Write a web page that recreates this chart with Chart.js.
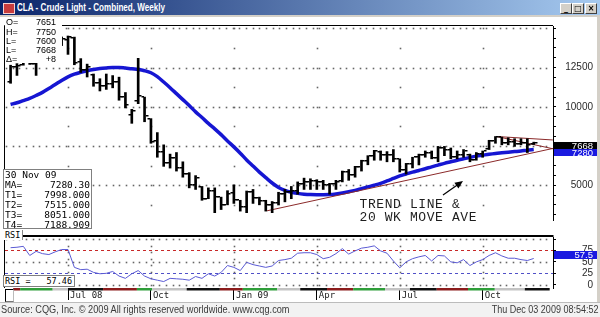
<!DOCTYPE html>
<html><head><meta charset="utf-8">
<script src="https://cdn.jsdelivr.net/npm/chart.js@4.4.1/dist/chart.umd.min.js"></script>
<style>
html,body{margin:0;padding:0;}
body{width:600px;height:317px;position:relative;overflow:hidden;background:#fff;font-family:'Liberation Sans',Arial,sans-serif;}
.abs{position:absolute;z-index:3;}
canvas{position:absolute;left:0;z-index:1;}
#title{left:0;top:0;width:600px;height:15px;background:linear-gradient(to right,#0a246a,#a6caf0);z-index:2;}
#band{left:0;top:15px;width:600px;height:2px;background:#d4d0c8;z-index:2;}
#ticon{left:3px;top:3px;width:10px;height:9px;background:#c83c3c;border:1px solid #f4d0d0;}
#ttext{left:17px;top:1px;color:#fff;font:bold 10px 'Liberation Sans';line-height:13px;white-space:nowrap;transform:scaleX(0.81);transform-origin:0 0;}
.btn{top:3px;width:10px;height:9px;background:#d4d0c8;border:1px solid;border-color:#fff #404040 #404040 #fff;font:bold 8px 'DejaVu Sans';line-height:9px;text-align:center;color:#000;}
#ohlc{left:5px;top:18px;width:57px;height:45px;background:#fff;font:9px 'Liberation Sans';line-height:9.2px;color:#000;padding-top:0.4px;box-sizing:border-box;}
.r{display:flex;justify-content:space-between;padding:0 6px 0 1px;}
#mabox{left:3px;top:169px;width:89px;height:60px;background:#fff;border:1px solid #808080;box-sizing:border-box;font:9.5px 'DejaVu Sans Mono';line-height:10px;color:#000;}
.r2{display:flex;justify-content:space-between;padding:0 1px 0 1px;white-space:pre;}
#rsilab{left:3px;top:230px;height:10px;padding:0 2px;background:#fff;border-right:1px solid #888;font:8.5px 'DejaVu Sans Mono';line-height:10px;color:#000;}
#rsibox{left:3px;top:275px;width:72px;height:12px;background:#fff;border:1px solid #808080;box-sizing:border-box;font:8.5px 'DejaVu Sans Mono';line-height:10px;color:#000;display:flex;justify-content:space-between;padding:0 2px 0 1px;white-space:pre;}
.pbox{left:554px;width:43px;height:7px;overflow:hidden;color:#fff;font:9.5px 'Liberation Sans';line-height:7.5px;text-align:right;box-sizing:border-box;padding-right:4px;}
#ann{left:359.5px;top:199.2px;font:13px 'Liberation Mono';letter-spacing:0.6px;line-height:12.5px;color:#1e1e1e;white-space:pre;}
#brk{left:5px;top:289px;width:7px;height:11px;border-left:1px solid #000;border-top:1px solid #000;border-bottom:1px solid #777;border-right:1px solid #bbb;background:#fff;}
#foot{left:0;top:302px;width:600px;height:15px;background:#f2f2f2;border-top:1px solid #bcbcbc;box-sizing:border-box;z-index:2;}
#src{left:1px;top:303px;font:10px 'Liberation Sans';line-height:14px;color:#3a3a3a;white-space:nowrap;transform:scaleX(0.92);transform-origin:0 0;}
#dt{right:2px;top:303px;font:10px 'Liberation Sans';line-height:14px;color:#3a3a3a;white-space:nowrap;transform:scaleX(0.9);transform-origin:100% 0;}
#rframe{left:597px;top:17px;width:3px;height:285px;background:#d4d0c8;z-index:2;}
</style></head>
<body>
<div id="title" class="abs"></div>
<div id="band" class="abs"></div>
<div id="ticon" class="abs"></div>
<div id="ttext" class="abs">CLA - Crude Light - Combined, Weekly</div>
<div class="abs btn" style="left:560px">_</div>
<div class="abs btn" style="left:572px">□</div>
<div class="abs btn" style="left:585px">×</div>

<canvas id="cA" width="600" height="212" style="top:17px;width:600px;height:212px"></canvas>
<canvas id="cB" width="600" height="76" style="top:228px;width:600px;height:76px"></canvas>

<div id="ohlc" class="abs">
 <div class="r"><span>O=</span><span>7651</span></div>
 <div class="r"><span>H=</span><span>7750</span></div>
 <div class="r"><span>L=</span><span>7600</span></div>
 <div class="r"><span>L=</span><span>7668</span></div>
 <div class="r"><span>Δ=</span><span>+8</span></div>
</div>
<div id="mabox" class="abs">
 <div class="r2"><span>30 Nov 09</span></div>
 <div class="r2"><span>MA=</span><span>7280.30</span></div>
 <div class="r2"><span>T1=</span><span>7998.000</span></div>
 <div class="r2"><span>T2=</span><span>7515.000</span></div>
 <div class="r2"><span>T3=</span><span>8051.000</span></div>
 <div class="r2"><span>T4=</span><span>7188.909</span></div>
</div>
<div id="rsilab" class="abs">RSI</div>
<div id="rsibox" class="abs"><span>RSI =</span><span>57.46</span></div>
<div class="abs pbox" style="top:141.5px;background:#000">7668</div>
<div class="abs pbox" style="top:148.5px;background:#1a1ae0">7280</div>
<div class="abs pbox" style="top:251px;background:#1a1ae0;height:7.5px">57.5</div>
<div id="ann" class="abs">TREND LINE &amp;
20 WK MOVE AVE</div>
<svg class="abs" style="left:0;top:0" width="600" height="317">
 <line x1="443" y1="195" x2="458" y2="184.5" stroke="#000" stroke-width="1.2"/>
 <polygon points="463,181 458.4,188.5 454.4,182.7" fill="#000"/>
</svg>
<div id="brk" class="abs"></div>
<div id="rframe" class="abs"></div>
<div id="foot" class="abs"></div>
<div id="src" class="abs">Source: CQG, Inc. © 2009 All rights reserved worldwide. www.cqg.com</div>
<div id="dt" class="abs">Thu Dec 03 2009 08:54:52</div>

<script>
// ---------- DATA ----------
const weeks = [
 '2008-05-05','2008-05-12','2008-05-19','2008-05-26','2008-06-02','2008-06-09','2008-06-16','2008-06-23','2008-06-30',
 '2008-07-07','2008-07-14','2008-07-21','2008-07-28','2008-08-04','2008-08-11','2008-08-18','2008-08-25',
 '2008-09-01','2008-09-08','2008-09-15','2008-09-22','2008-09-29','2008-10-06','2008-10-13','2008-10-20','2008-10-27',
 '2008-11-03','2008-11-10','2008-11-17','2008-11-24','2008-12-01','2008-12-08','2008-12-15','2008-12-22','2008-12-29',
 '2009-01-05','2009-01-12','2009-01-19','2009-01-26','2009-02-02','2009-02-09','2009-02-16','2009-02-23',
 '2009-03-02','2009-03-09','2009-03-16','2009-03-23','2009-03-30','2009-04-06','2009-04-13','2009-04-20','2009-04-27',
 '2009-05-04','2009-05-11','2009-05-18','2009-05-25','2009-06-01','2009-06-08','2009-06-15','2009-06-22','2009-06-29',
 '2009-07-06','2009-07-13','2009-07-20','2009-07-27','2009-08-03','2009-08-10','2009-08-17','2009-08-24','2009-08-31',
 '2009-09-07','2009-09-14','2009-09-21','2009-09-28','2009-10-05','2009-10-12','2009-10-19','2009-10-26',
 '2009-11-02','2009-11-09','2009-11-16','2009-11-23','2009-11-30'];
const opens = [11600,12550,12650,13200,12750,13800,13450,13500,14000,
 14250,14400,12850,12350,12000,11500,11300,11450,11550,10600,9500,10400,10600,9200,7800,7100,6400,6750,6100,5700,5000,
 4900,4150,4650,4250,3770,4500,4050,3650,4600,4170,4000,3750,3890,4480,4550,4630,5110,5240,5250,5220,5030,5100,
 5300,5860,5630,6170,6560,6840,7150,6950,6920,6670,5990,6350,6780,6940,7090,6750,7390,7270,6800,6930,6950,6600,
 6995,7300,7850,8050,7700,7740,7640,7670,7651];
const highs = [12650,12750,13450,13350,13900,13950,13950,14250,14450,
 14510,14440,13070,12720,12090,11790,12090,11990,11890,10910,9840,13090,10620,9250,8360,7580,6990,7090,6500,5810,5620,
 4930,4840,4840,4250,4660,5030,4050,4640,4740,4250,4050,3970,4560,4740,4930,5220,5460,5420,5360,5320,5130,5320,
 5910,6010,6210,6600,6890,7230,7190,7150,7280,6690,6400,6790,6990,7190,7190,7480,7480,7380,7190,7280,6990,7090,
 7190,7870,8110,8070,8030,7970,7970,7970,7750];
const lows = [11500,12000,12650,12700,12000,13050,13150,13150,13900,
 13340,12680,12190,11900,11310,11010,11110,11210,10420,9930,8950,10200,9050,7680,6790,6210,6100,5910,5520,4840,4740,
 4050,4150,3260,3460,3760,3850,3360,3260,3850,3760,3360,3260,3750,3950,4150,4440,4740,4740,4740,4740,4440,4740,
 5220,5320,5520,5910,6310,6600,6600,6500,6500,5850,5720,6110,6300,6790,6690,6500,6890,6690,6690,6790,6500,6600,
 6790,7280,7680,7580,7580,7480,7580,7090,7600];
const closes = [12550,12600,13200,12750,13850,13450,13500,14000,14340,
 14450,12800,12350,12550,11500,11350,11450,11550,10600,10100,9750,10700,9400,7780,7100,6400,6750,6100,5700,5000,5450,
 4150,4650,4250,3770,4460,4080,3650,4600,4170,4000,3750,3890,4480,4550,4630,5110,5240,5250,5220,5030,5100,5200,
 5860,5630,6170,6560,6840,7200,6950,6920,6670,5990,6350,6780,6940,7090,6750,7390,7270,6800,6930,7200,6600,6995,
 7180,7850,8050,7700,7740,7640,7670,7600,7668];
const ma20 = [10150,10260,10400,10540,10720,10920,11170,11420,11680,
 11910,12080,12200,12300,12380,12440,12480,12510,12510,12470,12420,12380,12300,12170,11920,11580,11220,10840,10460,10080,
 9680,9320,8950,8600,8230,7830,7450,7050,6620,6230,5840,5490,5150,4870,4680,4560,4490,4440,4410,4400,4400,4410,4450,
 4510,4590,4680,4790,4900,5010,5130,5280,5440,5600,5720,5840,5950,6060,6180,6290,6400,6500,6600,6690,6780,6860,
 6920,6980,7030,7070,7110,7150,7190,7240,7280.30];
const rsi = [81,82,84,64,73,68,66,72,77,
 77,38,33,34,27,24,25,29,19,14,24,31,19,13,10,7,14,13,12,10,18,14,24,19,27,42,38,31,49,44,41,38,41,53,55,58,69,70,70,66,
 57,60,68,79,67,74,80,82,85,74,69,52,37,50,57,61,64,52,64,63,50,48,55,42,50,55,64,70,63,58,58,55,53,57.46];
// trend lines: [week index, price] pairs
const trendSupport = [[40.2,3380],[85.0,7350]];
const trendUpper   = [[76.2,8110],[85.0,7890]];
const trendLower   = [[76.2,8110],[85.0,7330]];
const priceGridLevels = [5000,7500,10000,12500,15000];
const priceTickLabels = [5000,10000,12500];
const rsiTickLabels = [0,25,50,75];
const timeTickWeeks = ['2008-07-07','2008-10-06','2009-01-05','2009-04-06','2009-07-06','2009-10-05'];
const timeTickLabels = ['Jul 08','Oct','Jan 09','Apr','Jul','Oct'];
const stripEdges = [0.4,1.5,6.6,9,14.5,19.8,22.2,27.6,32.8,36.4,41.8,45.4,49.6,53.7,58.7,62.6,66.8,71.7,75.9,80.6,84.5];
const stripColors = ['#8b1c1c','#2f9e3a','#c4c4c4','#101010'];

// ---------- CHARTS ----------
Chart.defaults.animation = false;
Chart.defaults.font.family = "'Liberation Sans', Arial, sans-serif";
const tickIdx = timeTickWeeks.map(w => weeks.indexOf(w));
const X_MIN = -0.875, X_MAX = 85.02;
const GRID = '#666666';
const DOT = 1.6;

function dotsH(ctx, a, py, step, color) {
  const yy = Math.round(py) - 0.3;
  ctx.fillStyle = color;
  for (let xx = a.left + 1; xx < a.right - 1; xx += step) ctx.fillRect(Math.round(xx) - 0.3, yy, DOT, DOT);
}
function dotsV(ctx, a, px, step, start, color) {
  const xx = Math.round(px) - 0.3;
  ctx.fillStyle = color;
  for (let yy = a.top + start; yy < a.bottom - 1; yy += step) ctx.fillRect(xx, Math.round(yy) - 0.3, DOT, DOT);
}

const gridA = {
  id: 'gridA',
  beforeDatasetsDraw(chart) {
    const {ctx, chartArea: a, scales} = chart;
    const sx = scales.x, sy = scales.y;
    ctx.save();
    priceGridLevels.forEach(v => dotsH(ctx, a, sy.getPixelForValue(v), 6.67, GRID));
    tickIdx.forEach(v => {
      const x0 = sx.getPixelForValue(v);
      for (let lv = 3750; lv <= 15000; lv += 1250) {
        const py = sy.getPixelForValue(lv);
        if (py > a.top && py < a.bottom) { ctx.fillStyle = GRID; ctx.fillRect(Math.round(x0) - 0.3, Math.round(py) - 0.3, DOT, DOT); }
      }
    });
    ctx.restore();
  }
};
const gridB = {
  id: 'gridB',
  beforeDatasetsDraw(chart) {
    const {ctx, chartArea: a, scales} = chart;
    const sx = scales.x, sy = scales.y;
    ctx.save();
    [0, 50, 100].forEach(v => dotsH(ctx, a, sy.getPixelForValue(v), 6.67, GRID));
    tickIdx.forEach(v => dotsV(ctx, a, sx.getPixelForValue(v), 6.5, 2, GRID));
    ctx.restore();
  }
};

const ohlcTicks = {
  id: 'ohlcTicks',
  afterDatasetsDraw(chart) {
    const {ctx, chartArea: a, scales} = chart;
    const sx = scales.x, sy = scales.y;
    ctx.save();
    ctx.beginPath(); ctx.rect(a.left, a.top, a.right - a.left, a.bottom - a.top); ctx.clip();
    ctx.fillStyle = '#000';
    weeks.forEach((w, i) => {
      const px = Math.round(sx.getPixelForValue(i));
      ctx.fillRect(px - 3.5, Math.round(sy.getPixelForValue(opens[i])) - 1, 2.5, 1.5);
      ctx.fillRect(px + 1, Math.round(sy.getPixelForValue(closes[i])) - 1, 2.5, 1.5);
    });
    ctx.restore();
  }
};
const frameA = {
  id: 'frameA',
  afterDraw(c) {
    const {ctx, chartArea: a} = c;
    ctx.save(); ctx.strokeStyle = '#000'; ctx.lineWidth = 1;
    ctx.beginPath(); ctx.moveTo(a.left - 0.5, a.bottom + 1); ctx.lineTo(a.left - 0.5, a.top - 0.5); ctx.lineTo(a.right, a.top - 0.5); ctx.stroke();
    ctx.restore();
  }
};
const frameB = {
  id: 'frameB',
  afterDraw(c) {
    const {ctx, chartArea: a, scales} = c;
    const sx = scales.x;
    ctx.save();
    ctx.fillStyle = '#000';
    ctx.fillRect(a.left - 1, a.top - 2, a.right - a.left + 1.5, 2);
    ctx.fillRect(a.left - 1, a.top, 1, a.bottom - a.top);
    for (let s = 0; s < stripEdges.length - 1; s++) {
      const x0 = sx.getPixelForValue(stripEdges[s]), x1 = sx.getPixelForValue(stripEdges[s + 1]);
      ctx.fillStyle = stripColors[s % 4];
      ctx.fillRect(x0, a.bottom, x1 - x0, 2.5);
    }
    ctx.restore();
  }
};

const xCommon = (showLabels) => ({
  type: 'linear', min: X_MIN, max: X_MAX, offset: false,
  afterBuildTicks: s => { s.ticks = tickIdx.map(v => ({value: v})); },
  grid: {offset: false, drawOnChartArea: false, color: GRID, drawTicks: showLabels, tickColor: '#000', tickLength: 12, tickWidth: 1},
  border: {display: false},
  ticks: {display: showLabels, autoSkip: false, maxRotation: 0, align: 'start', labelOffset: 2, padding: -10,
    font: {family: "'DejaVu Sans Mono'", size: 9}, color: '#222',
    callback: v => { const j = tickIdx.indexOf(v); return j >= 0 ? timeTickLabels[j] : ''; }},
  afterFit: s => { s.height = showLabels ? 14 : 0; }
});

new Chart(document.getElementById('cA'), {
  type: 'bar',
  data: {datasets: [
    {type: 'bar', label: 'High-Low', data: weeks.map((w, i) => ({x: i, y: [lows[i], highs[i]]})),
     backgroundColor: '#000', barThickness: 2, borderWidth: 0, order: 0},
    {type: 'line', label: 'Trend', data: trendSupport.map(p => ({x: p[0], y: p[1]})), borderColor: '#8b2a2a', borderWidth: 1, pointRadius: 0, order: 1},
    {type: 'line', label: 'Upper', data: trendUpper.map(p => ({x: p[0], y: p[1]})), borderColor: '#8b2a2a', borderWidth: 1, pointRadius: 0, order: 1},
    {type: 'line', label: 'Lower', data: trendLower.map(p => ({x: p[0], y: p[1]})), borderColor: '#8b2a2a', borderWidth: 1, pointRadius: 0, order: 1},
    {type: 'line', label: '20 WK MA', data: ma20.map((v, i) => ({x: i, y: v})), borderColor: '#1616d2', borderWidth: 3.5,
     pointRadius: 0, cubicInterpolationMode: 'monotone', order: 2}
  ]},
  options: {
    responsive: false, events: [],
    layout: {padding: {left: 5, right: 7, top: 1, bottom: 1}},
    plugins: {legend: {display: false}, tooltip: {enabled: false}},
    scales: {
      x: xCommon(false),
      y: {type: 'linear', position: 'right', min: 2794, max: 15147,
        afterBuildTicks: s => { const t = []; for (let v = 3125; v <= 15000; v += 625) t.push({value: v}); s.ticks = t; },
        ticks: {autoSkip: false, crossAlign: 'far', font: {size: 10}, color: '#2a2a2a',
          callback: v => priceTickLabels.includes(v) ? String(v) : ''},
        grid: {drawOnChartArea: false, tickColor: '#000', tickLength: 3, tickWidth: 1},
        border: {display: true, color: '#000', width: 1},
        afterFit: s => { s.width = 40; }}
    }
  },
  plugins: [gridA, ohlcTicks, frameA]
});

new Chart(document.getElementById('cB'), {
  type: 'line',
  data: {datasets: [
    {label: 'RSI', data: rsi.map((v, i) => ({x: i, y: v})), borderColor: '#5a5ad4', borderWidth: 1, pointRadius: 0}
  ]},
  options: {
    responsive: false, events: [],
    layout: {padding: {left: 5, right: 7, top: 2, bottom: 2}},
    plugins: {legend: {display: false}, tooltip: {enabled: false}},
    scales: {
      x: xCommon(true),
      y: {type: 'linear', position: 'right', min: -7.1, max: 104.4,
        afterBuildTicks: s => { s.ticks = [0, 25, 50, 75, 100].map(v => ({value: v})); },
        ticks: {autoSkip: false, crossAlign: 'far', font: {size: 10}, color: '#2a2a2a',
          callback: v => rsiTickLabels.includes(v) ? String(v) : ''},
        grid: {color: c => !c.tick ? 'rgba(0,0,0,0)' : c.tick.value === 75 ? '#c82828' : c.tick.value === 25 ? '#5050c8' : 'rgba(0,0,0,0)',
          tickColor: '#000', tickLength: 3, tickWidth: 1},
        border: {display: true, color: '#000', width: 1, dash: [3, 3]},
        afterFit: s => { s.width = 40; }}
    }
  },
  plugins: [gridB, frameB]
});
</script>
</body></html>
